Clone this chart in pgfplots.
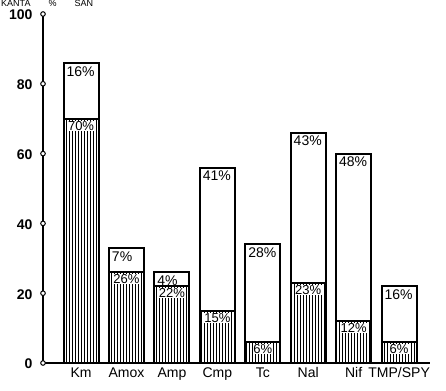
\documentclass[border=0pt]{standalone}
\usepackage{pgfplots}
\pgfplotsset{compat=1.18}
\usepackage{pgfplotstable}
\usepackage{fontspec}
\setmainfont{Liberation Sans}
\usetikzlibrary{patterns}

\pgfplotstableread{
x lo up tot
0 70 16 86
1 26 7 33
2 22 4 26
3 15 41 56
4 6 28 34
5 23 43 66
6 12 48 60
7 6 16 22
}\data

\pgfplotstableread{
x y
-0.837 0
-0.837 20
-0.837 40
-0.837 60
-0.837 80
-0.837 100
}\yticks

\begin{document}
\begin{tikzpicture}
\pgfplotsset{
  base/.style={
    at={(0pt,0pt)}, anchor=south west,
    scale only axis, width=387pt, height=349pt,
    xmin=-0.837, xmax=7.68, ymin=0, ymax=100, clip=false,
  }
}
\begin{axis}[
  base,
  axis x line*=bottom, axis y line*=left,
  axis line style={line width=1.8pt},
  ybar stacked, bar width=0.77,
  xtick={0,...,7}, xticklabels={Km,Amox,Amp,Cmp,Tc,Nal,Nif,TMP/SPY},
  ytick={0,20,...,100},
  major tick length=0pt,
  xticklabel style={font=\fontsize{14}{14}\selectfont, yshift=-1pt},
  yticklabel style={font=\fontsize{14}{14}\selectfont\bfseries, xshift=-7pt, yshift=-1pt},
  /pgf/number format/assume math mode=true,
]
\addplot[draw=black, line width=2pt, pattern=vertical lines, pattern color=black]
  table[x=x, y=lo]{\data};
\addplot[draw=black, line width=2pt, fill=white]
  table[x=x, y=up]{\data};
\end{axis}
\begin{axis}[
  base, axis lines=none,
  point meta=explicit,
  /pgf/number format/assume math mode=true,
]
\addplot[draw=none, no marks,
  nodes near coords={\pgfmathprintnumber{\pgfplotspointmeta}\%},
  every node near coord/.append style={anchor=north, yshift=-2pt, fill=white, inner sep=0.3pt,
    font=\fontsize{13}{13}\selectfont}]
  table[x=x, y=lo, meta=lo]{\data};
\addplot[draw=none, no marks,
  nodes near coords={\pgfmathprintnumber{\pgfplotspointmeta}\%},
  every node near coord/.append style={anchor=north west, xshift=-15pt, yshift=-3pt, inner sep=0.3pt,
    font=\fontsize{14}{14}\selectfont}]
  table[x=x, y=tot, meta=up]{\data};
\addplot[only marks, mark=*, mark size=2.3pt, mark options={fill=white, draw=black, line width=1pt}]
  table[x=x, y=y, meta=y]{\yticks};
\end{axis}
\node[anchor=south west, inner sep=0pt, font=\fontsize{9}{9}\selectfont] at (-42pt,356.5pt)
  {KANTA\hspace{18pt}\%\hspace{18pt}SAN};
\pgfresetboundingbox
\useasboundingbox (-43pt,-27pt) rectangle (403pt,363pt);
\end{tikzpicture}
\end{document}
